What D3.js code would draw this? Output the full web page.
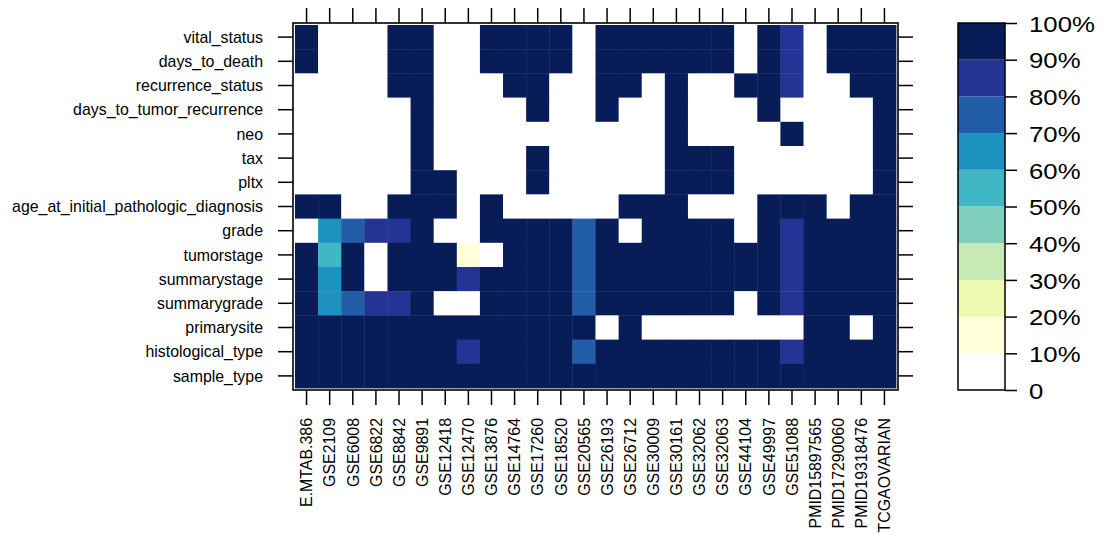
<!DOCTYPE html>
<html>
<head>
<meta charset="utf-8">
<script src="https://cdn.jsdelivr.net/npm/d3@7"></script>
<style>
	body { margin: 0; background: #fff; }
	text { font-family: "Liberation Sans", Arial, sans-serif; fill: #000; }
</style>
</head>
<body>
<svg id="chart" width="1109" height="536"></svg>
<script>
const datasets = ["E.MTAB.386", "GSE2109", "GSE6008", "GSE6822", "GSE8842", "GSE9891", "GSE12418", "GSE12470",
	"GSE13876", "GSE14764", "GSE17260", "GSE18520", "GSE20565", "GSE26193", "GSE26712", "GSE30009", "GSE30161",
	"GSE32062", "GSE32063", "GSE44104", "GSE49997", "GSE51088", "PMID15897565", "PMID17290060", "PMID19318476",
	"TCGAOVARIAN"];

// top to bottom
const variables = ["vital_status", "days_to_death", "recurrence_status", "days_to_tumor_recurrence", "neo", "tax",
	"pltx", "age_at_initial_pathologic_diagnosis", "grade", "tumorstage", "summarystage", "summarygrade",
	"primarysite", "histological_type", "sample_type"];

// fraction of samples with the variable available (one row per variable, one value per dataset)
const coverage = [
	[1, 0, 0, 0, 1, 1, 0, 0, 1, 1, 1, 1, 0, 1, 1, 1, 1, 1, 1, 0, 1, 0.85, 0, 1, 1, 1],
	[1, 0, 0, 0, 1, 1, 0, 0, 1, 1, 1, 1, 0, 1, 1, 1, 1, 1, 1, 0, 1, 0.85, 0, 1, 1, 1],
	[0, 0, 0, 0, 1, 1, 0, 0, 0, 1, 1, 0, 0, 1, 1, 0, 1, 0, 0, 1, 1, 0.85, 0, 0, 1, 1],
	[0, 0, 0, 0, 0, 1, 0, 0, 0, 0, 1, 0, 0, 1, 0, 0, 1, 0, 0, 0, 1, 0, 0, 0, 0, 1],
	[0, 0, 0, 0, 0, 1, 0, 0, 0, 0, 0, 0, 0, 0, 0, 0, 1, 0, 0, 0, 0, 1, 0, 0, 0, 1],
	[0, 0, 0, 0, 0, 1, 0, 0, 0, 0, 1, 0, 0, 0, 0, 0, 1, 1, 1, 0, 0, 0, 0, 0, 0, 1],
	[0, 0, 0, 0, 0, 1, 1, 0, 0, 0, 1, 0, 0, 0, 0, 0, 1, 1, 1, 0, 0, 0, 0, 0, 0, 1],
	[1, 1, 0, 0, 1, 1, 1, 0, 1, 0, 0, 0, 0, 0, 1, 1, 1, 0, 0, 0, 1, 1, 1, 0, 1, 1],
	[0, 0.65, 0.75, 0.85, 0.85, 1, 0, 0, 1, 1, 1, 1, 0.75, 1, 0, 1, 1, 1, 1, 0, 1, 0.85, 1, 1, 1, 1],
	[1, 0.55, 1, 0, 1, 1, 1, 0.15, 0, 1, 1, 1, 0.75, 1, 1, 1, 1, 1, 1, 1, 1, 0.85, 1, 1, 1, 1],
	[1, 0.65, 1, 0, 1, 1, 1, 0.85, 1, 1, 1, 1, 0.75, 1, 1, 1, 1, 1, 1, 1, 1, 0.85, 1, 1, 1, 1],
	[1, 0.65, 0.75, 0.85, 0.85, 1, 0, 0, 1, 1, 1, 1, 0.75, 1, 1, 1, 1, 1, 1, 0, 1, 0.85, 1, 1, 1, 1],
	[1, 1, 1, 1, 1, 1, 1, 1, 1, 1, 1, 1, 1, 0, 1, 0, 0, 0, 0, 0, 0, 0, 1, 1, 0, 1],
	[1, 1, 1, 1, 1, 1, 1, 0.85, 1, 1, 1, 1, 0.75, 1, 1, 1, 1, 1, 1, 1, 1, 0.85, 1, 1, 1, 1],
	[1, 1, 1, 1, 1, 1, 1, 1, 1, 1, 1, 1, 1, 1, 1, 1, 1, 1, 1, 1, 1, 1, 1, 1, 1, 1]
];

const breaks = [0, 0.1, 0.2, 0.3, 0.4, 0.5, 0.6, 0.7, 0.8, 0.9, 1];
const breakLabels = ["0", "10%", "20%", "30%", "40%", "50%", "60%", "70%", "80%", "90%", "100%"];
const palette = ["#ffffff", "#ffffd9", "#edf8b1", "#c7e9b4", "#7fcdbb", "#41b6c4", "#1d91c0", "#225ea8", "#253494", "#081d58"];

const svg = d3.select("#chart");

// panel geometry
const panel = { left: 293, right: 898, top: 23, bottom: 390 };
const pad = 2;

const x = d3.scaleBand().domain(datasets).range([panel.left + pad, panel.right - pad]);
const y = d3.scaleBand().domain(variables).range([panel.top + pad, panel.bottom - pad]);
const color = d3.scaleThreshold().domain(breaks.slice(1, -1)).range(palette);

const cells = [];
coverage.forEach((row, i) => row.forEach((v, j) => cells.push({ variable: variables[i], dataset: datasets[j], value: v })));

svg.append("g").selectAll("rect").data(cells).join("rect")
	.attr("x", d => x(d.dataset))
	.attr("y", d => y(d.variable))
	.attr("width", x.bandwidth() + 0.4)
	.attr("height", y.bandwidth() + 0.4)
	.attr("fill", d => color(d.value));

svg.append("rect")
	.attr("x", panel.left).attr("y", panel.top)
	.attr("width", panel.right - panel.left).attr("height", panel.bottom - panel.top)
	.attr("fill", "none").attr("stroke", "#000").attr("stroke-width", 1.6);

const tickLen = 15;
const labelSize = 15.9;

function styleTicks(sel) {
	sel.call(g => g.select(".domain").remove())
		.selectAll(".tick line").attr("stroke", "#000").attr("stroke-width", 1.5);
}

// bottom axis with rotated labels
const bottomAxis = svg.append("g").attr("transform", `translate(0,${panel.bottom})`)
	.call(d3.axisBottom(x).tickSize(tickLen));
styleTicks(bottomAxis);
bottomAxis.selectAll(".tick text")
	.attr("font-size", labelSize)
	.attr("transform", "rotate(-90)")
	.attr("x", -(tickLen + 13)).attr("y", 0).attr("dy", "0.36em")
	.attr("text-anchor", "end");

const topAxis = svg.append("g").attr("transform", `translate(0,${panel.top})`)
	.call(d3.axisTop(x).tickSize(tickLen).tickFormat(""));
styleTicks(topAxis);

const leftAxis = svg.append("g").attr("transform", `translate(${panel.left},0)`)
	.call(d3.axisLeft(y).tickSize(tickLen).tickPadding(15));
styleTicks(leftAxis);
leftAxis.selectAll(".tick text").attr("font-size", labelSize).attr("dy", "0.36em");

const rightAxis = svg.append("g").attr("transform", `translate(${panel.right},0)`)
	.call(d3.axisRight(y).tickSize(tickLen).tickFormat(""));
styleTicks(rightAxis);

// colour key
const key = { left: 958, right: 1005, top: 23, bottom: 390 };
const ky = d3.scaleLinear().domain([0, 1]).range([key.bottom, key.top]);

svg.append("g").selectAll("rect").data(palette).join("rect")
	.attr("x", key.left)
	.attr("y", (d, i) => ky(breaks[i + 1]))
	.attr("width", key.right - key.left)
	.attr("height", (d, i) => ky(breaks[i]) - ky(breaks[i + 1]))
	.attr("fill", d => d);

svg.append("rect")
	.attr("x", key.left).attr("y", key.top)
	.attr("width", key.right - key.left).attr("height", key.bottom - key.top)
	.attr("fill", "none").attr("stroke", "#000").attr("stroke-width", 1.5);

const keyAxis = svg.append("g").attr("transform", `translate(${key.right},0)`)
	.call(d3.axisRight(ky).tickValues(breaks).tickSize(12).tickFormat((d, i) => breakLabels[i]).tickPadding(12));
keyAxis.select(".domain").remove();
keyAxis.selectAll(".tick line").attr("stroke", "#000").attr("stroke-width", 1.5);
keyAxis.selectAll(".tick text")
	.attr("font-size", 23)
	.attr("dy", "0.36em")
	.attr("transform", "translate(24,0) scale(1.12,1) translate(-24,0)");
</script>
</body>
</html>
